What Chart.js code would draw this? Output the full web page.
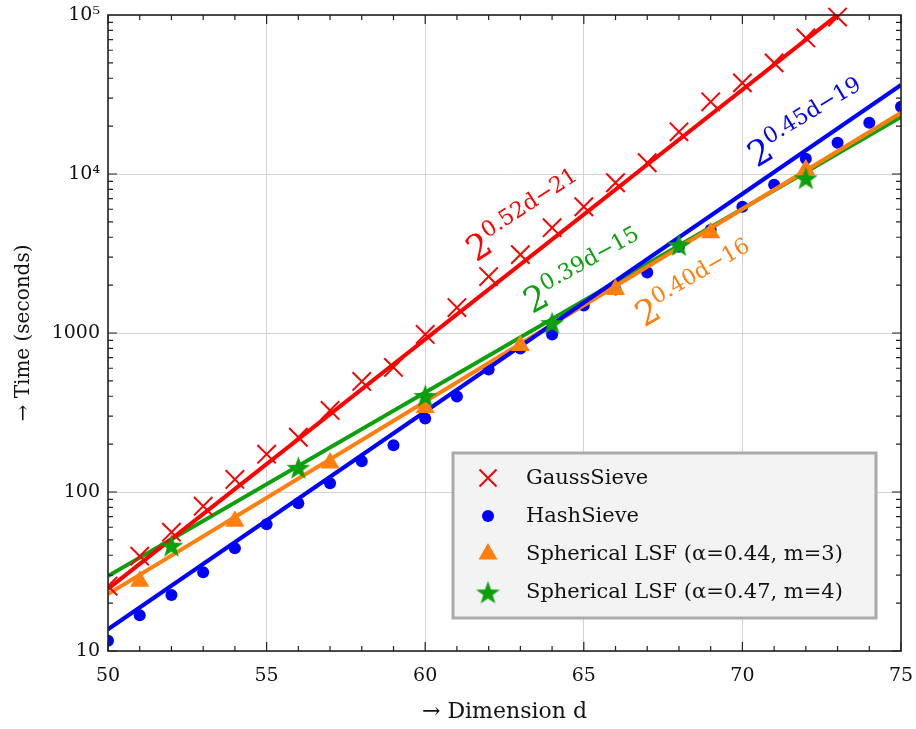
<!DOCTYPE html>
<html>
<head>
<meta charset="utf-8">
<script src="https://cdn.jsdelivr.net/npm/chart.js@4.4.1/dist/chart.umd.min.js"></script>
<style>
  html, body { margin: 0; padding: 0; background: #fff; }
  #wrap { width: 916px; height: 729px; }
</style>
</head>
<body>
<div id="wrap"><canvas id="c" width="916" height="729"></canvas></div>
<script>
// measured timings (seconds) per dimension d
const gaussD = [50, 51, 52, 53, 54, 55, 56, 57, 58, 59, 60, 61, 62, 63, 64, 65, 66, 67, 68, 69, 70, 71, 72, 73];
const gaussT = [25.6, 39.5, 55.9, 81.4, 120, 173, 221, 326, 496, 607, 979, 1446, 2264, 3111, 4594, 6223, 8810, 11770, 18410, 28440, 37420, 49990, 71770, 97100];

const hashD = [50, 51, 52, 53, 54, 55, 56, 57, 58, 59, 60, 61, 62, 63, 64, 65, 66, 67, 68, 69, 70, 71, 72, 73, 74, 75];
const hashT = [11.6, 16.8, 22.5, 31.3, 44.3, 62.7, 84.9, 113.5, 156, 197, 290, 399, 590, 800, 979, 1489, 1876, 2399, 3491, 4467, 6223, 8556, 12470, 15710, 20990, 26450];

const lsf3D = [51, 54, 57, 60, 63, 66, 69, 72];
const lsf3T = [27.5, 65.5, 152, 340, 835, 1876, 4276, 10640];

const lsf4D = [52, 56, 60, 64, 68, 72];
const lsf4T = [46.3, 143, 405, 1164, 3597, 9470];

// fitted lines at both ends of the x range
const fitD = [50, 75];
const gaussFit = [24.6, 206500];
const hashFit = [13.7, 36300];
const lsf3Fit = [22.8, 24260];
const lsf4Fit = [29.6, 22870];

const xTicks = [50, 55, 60, 65, 70, 75];
const yTicks = [10, 100, 1000, 10000, 100000];
const yTickLabels = ['10', '100', '1000', '10⁴', '10⁵'];

const RED = '#ff0000', BLUE = '#0000ff', ORANGE = '#ff7f0e', GREEN = '#0ca00c';
const FONT = "'DejaVu Serif', serif";

// text labels of the fits: where the "2" starts (in data units) and text angle
const fitLabels = [
    { exp: '0.52d−21', color: RED, d: 61.6, t: 2780, angle: -33 },
    { exp: '0.45d−19', color: BLUE, d: 70.45, t: 10900, angle: -31 },
    { exp: '0.39d−15', color: GREEN, d: 63.37, t: 1310, angle: -29 },
    { exp: '0.40d−16', color: ORANGE, d: 66.9, t: 1080, angle: -30 }
];

function pts(xs, ys) {
    return xs.map((x, i) => ({ x: x, y: ys[i] }));
}

// filled five pointed star for the second LSF series
function makeStar(size, color) {
    const cv = document.createElement('canvas');
    cv.width = size; cv.height = size;
    const g = cv.getContext('2d');
    const c = size / 2, ro = size / 2, ri = ro * 0.4;
    g.beginPath();
    for (let i = 0; i < 10; i++) {
        const r = i % 2 ? ri : ro;
        const a = -Math.PI / 2 + i * Math.PI / 5;
        g.lineTo(c + r * Math.cos(a), c + 1.5 + r * Math.sin(a));
    }
    g.closePath();
    g.fillStyle = color;
    g.fill();
    return cv;
}
const star = makeStar(25, GREEN);

const legendItems = [
    { text: 'GaussSieve', style: 'crossRot', radius: 12, color: RED, bw: 2 },
    { text: 'HashSieve', style: 'circle', radius: 6, color: BLUE, bw: 0 },
    { text: 'Spherical LSF (α=0.44, m=3)', style: 'triangle', radius: 11, color: ORANGE, bw: 0 },
    { text: 'Spherical LSF (α=0.47, m=4)', style: star, radius: 12, color: GREEN, bw: 0 }
];

// inward ticks on all four sides plus the black frame
const frameTicks = {
    id: 'frameTicks',
    afterDatasetsDraw(chart) {
        const { ctx, chartArea: a, scales: { x, y } } = chart;
        ctx.save();
        ctx.strokeStyle = '#222';
        ctx.lineWidth = 1.2;
        ctx.beginPath();
        for (let d = 50; d <= 75; d++) {
            const px = x.getPixelForValue(d);
            const len = d % 5 === 0 ? 9 : 5;
            ctx.moveTo(px, a.bottom); ctx.lineTo(px, a.bottom - len);
            ctx.moveTo(px, a.top); ctx.lineTo(px, a.top + len);
        }
        for (let k = 1; k <= 4; k++) {
            for (let m = 1; m <= 9; m++) {
                const py = y.getPixelForValue(m * Math.pow(10, k));
                const len = m === 1 ? 9 : 5;
                ctx.moveTo(a.left, py); ctx.lineTo(a.left + len, py);
                ctx.moveTo(a.right, py); ctx.lineTo(a.right - len, py);
            }
        }
        ctx.stroke();
        ctx.lineWidth = 1.6;
        ctx.strokeRect(a.left, a.top, a.right - a.left, a.bottom - a.top);
        ctx.restore();
    }
};

// rotated 2^(...) labels next to each fit
const fitText = {
    id: 'fitText',
    afterDatasetsDraw(chart) {
        const { ctx, scales: { x, y } } = chart;
        fitLabels.forEach(l => {
            ctx.save();
            ctx.translate(x.getPixelForValue(l.d), y.getPixelForValue(l.t));
            ctx.rotate(l.angle * Math.PI / 180);
            ctx.fillStyle = l.color;
            ctx.textBaseline = 'alphabetic';
            ctx.font = '35px ' + FONT;
            ctx.fillText('2', 0, 0);
            const w = ctx.measureText('2').width;
            ctx.font = '22px ' + FONT;
            ctx.fillText(l.exp, w, -14);
            ctx.restore();
        });
    }
};

// legend box inside the plot, lower right
const boxLegend = {
    id: 'boxLegend',
    afterDraw(chart) {
        const ctx = chart.ctx;
        const bx = 453, by = 453, bw = 423, bh = 165;
        ctx.save();
        ctx.fillStyle = '#f3f3f3';
        ctx.fillRect(bx, by, bw, bh);
        ctx.strokeStyle = '#aaaaaa';
        ctx.lineWidth = 3;
        ctx.strokeRect(bx, by, bw, bh);
        ctx.font = '21px ' + FONT;
        ctx.textBaseline = 'middle';
        legendItems.forEach((it, i) => {
            const cy = 478 + i * 38;
            ctx.fillStyle = it.color;
            ctx.strokeStyle = it.color;
            ctx.lineWidth = it.bw;
            Chart.helpers.drawPoint(ctx, { pointStyle: it.style, radius: it.radius, rotation: 0, borderWidth: it.bw }, 488, cy);
            ctx.fillStyle = '#111';
            ctx.fillText(it.text, 526, cy + 1);
        });
        ctx.restore();
    }
};

const lineDs = (data, color) => ({
    type: 'line',
    data: pts(fitD, data),
    borderColor: color,
    borderWidth: 4,
    pointRadius: 0,
    fill: false,
    order: 5
});

new Chart(document.getElementById('c'), {
    type: 'scatter',
    data: {
        datasets: [
            lineDs(gaussFit, RED),
            lineDs(hashFit, BLUE),
            lineDs(lsf3Fit, ORANGE),
            lineDs(lsf4Fit, GREEN),
            {
                data: pts(gaussD, gaussT),
                pointStyle: 'crossRot', pointRadius: 13, borderWidth: 2,
                borderColor: RED, backgroundColor: RED,
                clip: { left: 0, top: 12, right: 0, bottom: 0 },
                order: 4
            },
            {
                data: pts(hashD, hashT),
                pointStyle: 'circle', pointRadius: 6, borderWidth: 0,
                backgroundColor: BLUE, borderColor: BLUE, order: 8
            },
            {
                data: pts(lsf3D, lsf3T),
                pointStyle: 'triangle', pointRadius: 11, borderWidth: 0,
                backgroundColor: ORANGE, borderColor: ORANGE, order: 3
            },
            {
                data: pts(lsf4D, lsf4T),
                pointStyle: star, pointRadius: 12,
                backgroundColor: GREEN, borderColor: GREEN, order: 2
            }
        ]
    },
    options: {
        responsive: false,
        animation: false,
        layout: { padding: 0 },
        plugins: { legend: { display: false }, tooltip: { enabled: false } },
        scales: {
            x: {
                type: 'linear', min: 50, max: 75,
                afterBuildTicks: s => { s.ticks = xTicks.map(v => ({ value: v })); },
                afterFit: s => { s.height = 78; s.paddingLeft = 0; s.paddingRight = 13; },
                grid: { color: '#d4d4d4', lineWidth: 1, drawTicks: false },
                border: { display: false },
                ticks: { color: '#111', padding: 14, font: { family: FONT, size: 19 } },
                title: { display: true, text: '→ Dimension d', color: '#111', padding: { top: 0, bottom: 4 }, font: { family: FONT, size: 22 } }
            },
            y: {
                type: 'logarithmic', min: 10, max: 100000,
                afterBuildTicks: s => { s.ticks = yTicks.map(v => ({ value: v })); },
                afterFit: s => { s.width = 108; s.paddingTop = 15; s.paddingBottom = 0; },
                grid: { color: '#d4d4d4', lineWidth: 1, drawTicks: false },
                border: { display: false },
                ticks: {
                    color: '#111', padding: 8, font: { family: FONT, size: 19 },
                    callback: v => yTickLabels[yTicks.indexOf(v)]
                },
                title: { display: true, text: '→ Time (seconds)', color: '#111', padding: { top: 12, bottom: 0 }, font: { family: FONT, size: 20 } }
            }
        }
    },
    plugins: [frameTicks, fitText, boxLegend]
});
</script>
</body>
</html>
